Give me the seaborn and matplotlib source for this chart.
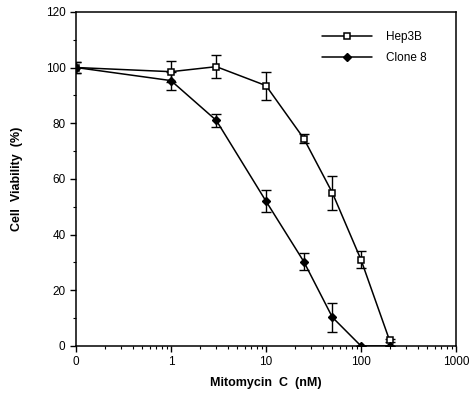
import seaborn as sns
import matplotlib.pyplot as plt
import matplotlib.ticker as mticker
from matplotlib.lines import Line2D
import pandas as pd

# Mitomycin C doses (nM); the "0" dose sits at 0.1 on the log axis
dose = [0, 1, 3, 10, 25, 50, 100, 200]
hep3b = [100, 98.5, 100.3, 93.5, 74.5, 55, 31, 2]
hep3b_err = [2, 3.8, 4.2, 5, 1.5, 6.2, 3, 0.5]
clone8 = [100, 95.3, 81, 52, 30.3, 10.3, 0, 0]
clone8_err = [2, 3.2, 2.3, 4, 3, 5.2, 0, 0]

zero_pos = 0.1
x_pos = [zero_pos if d == 0 else d for d in dose]

df = pd.DataFrame({
    'x': x_pos * 2,
    'y': hep3b + clone8,
    'err': hep3b_err + clone8_err,
    'line': ['Hep3B'] * len(dose) + ['Clone 8'] * len(dose),
})

sns.set_style('ticks')
plt.rcParams['font.family'] = ['Liberation Sans', 'DejaVu Sans']
plt.rcParams['text.color'] = 'black'
plt.rcParams['axes.labelcolor'] = 'black'
plt.rcParams['xtick.color'] = 'black'
plt.rcParams['ytick.color'] = 'black'
plt.rcParams['axes.edgecolor'] = 'black'

fig = plt.figure(figsize=(4.72, 3.94), dpi=100)
ax = fig.add_axes([0.161, 0.122, 0.805, 0.848])

sns.lineplot(data=df, x='x', y='y', hue='line',
             palette={'Hep3B': 'black', 'Clone 8': 'black'},
             linewidth=1.1, ax=ax, legend=False, zorder=3)

# error bars
for name, sub in df.groupby('line'):
    ax.errorbar(sub['x'], sub['y'], yerr=sub['err'], fmt='none',
                ecolor='black', elinewidth=1.0, capsize=3.5, capthick=1.0, zorder=2)

# markers
h = df[df['line'] == 'Hep3B']
c = df[df['line'] == 'Clone 8']
ax.plot(h['x'], h['y'], 's', ms=4, mfc='white', mec='black', mew=1.1, zorder=5)
ax.plot(c['x'], c['y'], 'D', ms=4, mfc='black', mec='black', zorder=5)

# legend
handles = [
    Line2D([], [], color='black', lw=1.1, marker='s', ms=4, mfc='white', mec='black', mew=1.1),
    Line2D([], [], color='black', lw=1.1, marker='D', ms=4, mfc='black'),
]
ax.legend(handles, ['Hep3B', 'Clone 8'], loc='upper right', frameon=False,
          bbox_to_anchor=(0.95, 0.975), handlelength=4.2, handletextpad=1.2,
          fontsize=8.5, labelspacing=0.75)

ax.set_xscale('log')
ax.set_xlim(zero_pos, 1000)
ax.set_ylim(0, 120)
ax.xaxis.set_major_locator(mticker.FixedLocator([0.1, 1, 10, 100, 1000]))
ax.xaxis.set_major_formatter(mticker.FixedFormatter(['0', '1', '10', '100', '1000']))
ax.xaxis.set_minor_locator(mticker.LogLocator(base=10, subs=range(2, 10), numticks=20))
ax.xaxis.set_minor_formatter(mticker.NullFormatter())
ax.yaxis.set_major_locator(mticker.MultipleLocator(20))
ax.yaxis.set_minor_locator(mticker.MultipleLocator(10))

ax.tick_params(which='major', direction='out', length=4, width=1, labelsize=8.5)
ax.tick_params(which='minor', direction='out', length=2.5, width=0.8)
for s in ax.spines.values():
    s.set_visible(True)
    s.set_linewidth(1.1)

ax.set_xlabel('Mitomycin  C  (nM)', fontsize=9, fontweight='bold', labelpad=6)
ax.set_ylabel('Cell  Viability  (%)', fontsize=9, fontweight='bold', labelpad=16)

plt.savefig('out.png', dpi=100)
